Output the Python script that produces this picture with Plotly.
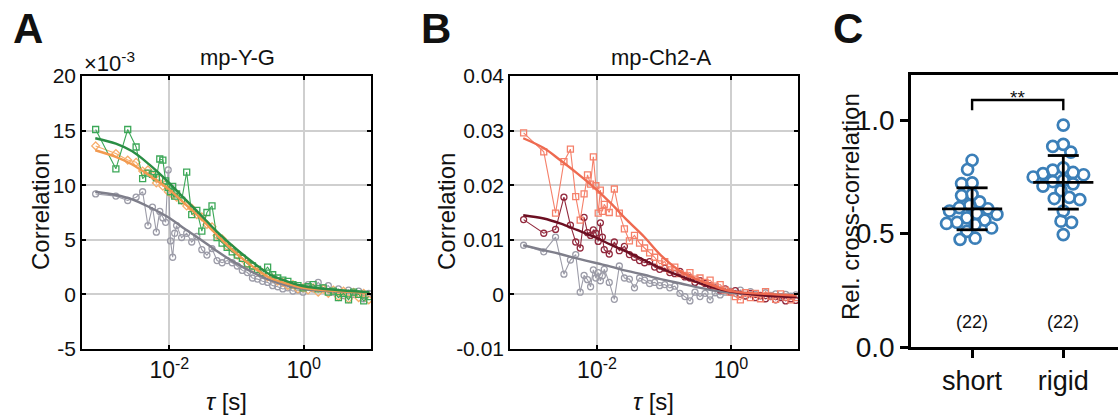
import plotly.graph_objects as go

W, H = 1118, 416

# ---------------- lag times (s) ----------------
tau = [0.0008, 0.0016, 0.0024, 0.0032, 0.0040, 0.0048, 0.0056, 0.0064,
       0.0072, 0.0080, 0.0088, 0.0096, 0.0104, 0.0112, 0.0120, 0.0128,
       0.0152, 0.0181, 0.0215, 0.0256, 0.0304, 0.0362, 0.0431, 0.0512,
       0.0609, 0.0724, 0.0861, 0.1024, 0.1218, 0.1448, 0.1722, 0.2048,
       0.2435, 0.2896, 0.3444, 0.4096, 0.4871, 0.5793, 0.6889, 0.8192,
       0.9742, 1.1585, 1.3777, 1.6384, 1.9484, 2.3170, 2.7554, 3.2768,
       3.8968, 4.6341, 5.5109, 6.5536, 7.7936, 9.2682]

fit_tau = [0.00079, 0.0016, 0.0028, 0.005, 0.01, 0.016, 0.028, 0.05,
           0.089, 0.178, 0.316, 0.562, 1.0, 3.16, 9.5]

# ---------------- panel A: mp-Y-G (x 1e-3) ----------------
a_green = [15.1, 11.5, 15.1, 13.5, 10.6, 11.1, 11.0, 10.7, 12.4, 12.3, 10.4, 9.8,
           9.4, 9.9, 9.0, 9.2, 8.6, 11.2, 7.3, 7.7, 5.8, 7.5, 8.1, 5.2,
           4.7, 4.3, 3.9, 3.6, 3.3, 2.8, 2.6, 2.3, 2.0, 2.5, 1.8, 1.5,
           1.3, 1.2, 0.9, 0.8, 0.6, 0.7, 0.9, 0.5, 0.6, 0.2, 0.3, -0.3,
           0.1, -0.5, 0.2, 0.0, -0.6, -0.2]
a_orange = [13.6, 12.9, 12.3, 12.1, 11.3, 11.4, 10.9, 10.2, 10.6, 9.9, 10.1, 9.4,
            9.7, 9.1, 9.3, 8.9, 8.6, 8.1, 7.9, 7.3, 7.1, 6.4, 6.2, 5.4,
            5.1, 4.4, 4.2, 3.6, 3.3, 2.8, 2.6, 2.1, 2.0, 1.6, 1.5, 1.2,
            1.1, 0.8, 0.9, 0.5, 0.6, 0.4, 0.6, 0.2, 0.5, 0.1, 0.4, -0.2,
            0.3, -0.4, 0.2, -0.3, 0.1, -0.5]
a_gray = [9.2, 9.0, 8.6, 8.9, 9.4, 6.3, 8.0, 5.7, 7.6, 7.0, 6.6, 11.4,
          4.9, 3.4, 5.6, 6.3, 5.2, 5.6, 4.8, 5.3, 4.1, 3.6, 4.2, 3.1,
          2.9, 3.1, 2.9, 2.6, 2.2, 2.0, 1.5, 1.4, 1.2, 1.1, 0.8, 0.7,
          0.5, 0.6, 0.3, 0.4, 0.2, 0.9, 0.5, 1.1, 0.6, 0.8, 0.2, 0.5,
          -0.1, 0.4, 0.0, 0.3, -0.4, 0.1]
a_green_fit = [14.3, 13.8, 13.1, 11.9, 10.2, 8.9, 7.4, 5.8, 4.4, 2.9, 1.8, 1.2, 0.75, 0.4, 0.2]
a_orange_fit = [13.2, 12.6, 11.9, 10.9, 9.6, 8.45, 7.1, 5.5, 4.0, 2.5, 1.5, 1.0, 0.6, 0.3, 0.15]
a_gray_fit = [9.4, 9.1, 8.7, 8.0, 7.0, 6.1, 5.1, 4.0, 3.0, 2.0, 1.3, 0.8, 0.5, 0.25, 0.15]

# ---------------- panel B: mp-Ch2-A ----------------
b_salmon = [0.0296, 0.0261, 0.0149, 0.0243, 0.0266, 0.0179, 0.0136, 0.0184,
            0.0219, 0.0202, 0.0252, 0.0199, 0.0149, 0.0191, 0.0152, 0.0165,
            0.0150, 0.0193, 0.0149, 0.0120, 0.0098, 0.0108, 0.0094, 0.0085,
            0.0076, 0.0068, 0.0056, 0.0060, 0.0045, 0.0050, 0.0038, 0.0035,
            0.0040, 0.0028, 0.0030, 0.0022, 0.0026, 0.0015, 0.0018, 0.0008,
            0.0004, -0.0004, -0.0010, 0.0003, -0.0006, 0.0002, -0.0008, 0.0005,
            -0.0003, -0.0009, 0.0001, -0.0005, -0.0010, -0.0006]
b_maroon = [0.0137, 0.0112, 0.0119, 0.0178, 0.0127, 0.0096, 0.0085, 0.0141,
            0.0113, 0.0108, 0.0118, 0.0112, 0.0097, 0.0131, 0.0105, 0.0082,
            0.0074, 0.0096, 0.0080, 0.0088, 0.0073, 0.0068, 0.0062, 0.0058,
            0.0060, 0.0050, 0.0046, 0.0048, 0.0040, 0.0038, 0.0042, 0.0032,
            0.0030, 0.0022, 0.0025, 0.0020, 0.0016, 0.0012, 0.0008, 0.0010,
            0.0004, 0.0007, 0.0000, -0.0003, 0.0002, -0.0006, -0.0002, -0.0008,
            -0.0004, -0.0010, -0.0006, -0.0012, -0.0008, -0.0011]
b_gray = [0.0090, 0.0078, 0.0105, 0.0037, 0.0063, 0.0073, 0.0004, 0.0035,
          0.0027, 0.0014, 0.0045, 0.0030, 0.0040, 0.0025, 0.0034, 0.0046,
          0.0022, -0.0009, 0.0052, 0.0030, 0.0028, 0.0012, 0.0030, 0.0026,
          0.0020, 0.0022, 0.0016, 0.0018, 0.0012, 0.0015, 0.0002, -0.0004,
          -0.0012, 0.0004, -0.0004, 0.0002, -0.0010, 0.0003, -0.0001, 0.0004,
          0.0006, 0.0002, 0.0008, -0.0002, 0.0005, 0.0000, -0.0003, 0.0003,
          -0.0002, 0.0001, -0.0004, 0.0000, -0.0003, -0.0001]
b_salmon_fit = [0.0286, 0.0268, 0.0246, 0.0222, 0.0191, 0.0167, 0.0136, 0.0106,
                0.0072, 0.0042, 0.0027, 0.0015, 0.0006, 0.0001, -0.0002]
b_maroon_fit = [0.0145, 0.0139, 0.0130, 0.0118, 0.0103, 0.0091, 0.0078, 0.0063,
                0.0048, 0.0033, 0.0022, 0.0012, 0.0005, -0.0002, -0.0005]
b_gray_fit = [0.0090, 0.0081, 0.0074, 0.0066, 0.0057, 0.0051, 0.0043, 0.0036,
              0.0028, 0.0020, 0.0013, 0.0007, 0.0003, 0.0000, -0.0001]

# ---------------- panel C: relative cross-correlation ----------------
c_groups = ["short", "rigid"]
c_short = [0.824, 0.783, 0.724, 0.721, 0.668, 0.673, 0.640, 0.625, 0.615, 0.610, 0.600,
           0.590, 0.585, 0.570, 0.560, 0.550, 0.545, 0.540, 0.525, 0.510, 0.480, 0.475]
c_rigid = [0.979, 0.894, 0.885, 0.860, 0.790, 0.780, 0.770, 0.765, 0.760, 0.750, 0.735,
           0.730, 0.720, 0.710, 0.690, 0.660, 0.655, 0.650, 0.600, 0.555, 0.550, 0.496]
c_counts = ["(22)", "(22)"]

FONT = "Liberation Sans, Arial, Helvetica, sans-serif"

# panel geometry in pixels
AX_A = (82, 371)
AX_B = (510, 798)
AX_C = (911, 1118)
Y_TOP, Y_BOT = 76, 349


def xd(p):
    return [p[0] / W, p[1] / W]


def yd(top, bot):
    return [1 - bot / H, 1 - top / H]


fig = go.Figure()


def curve_traces(xa, ya, data_series, fit_series):
    for vals, col, sym in data_series:
        fig.add_trace(go.Scatter(
            x=tau, y=vals, mode="lines+markers", xaxis=xa, yaxis=ya,
            line=dict(color=col, width=1.1),
            marker=dict(symbol=sym, size=6, color=col, line=dict(width=1.3, color=col)),
            showlegend=False, hoverinfo="skip"))
    for vals, col in fit_series:
        fig.add_trace(go.Scatter(
            x=fit_tau, y=vals, mode="lines", xaxis=xa, yaxis=ya,
            line=dict(color=col, width=2.4, shape="spline", smoothing=1.0),
            showlegend=False, hoverinfo="skip"))


GRAY_D, GRAY_F = "#9c9ca8", "#7f7f8b"
curve_traces("x", "y",
             [(a_gray, GRAY_D, "circle-open"),
              (a_orange, "#f7ad6b", "diamond-open"),
              (a_green, "#3ca858", "square-open")],
             [(a_gray_fit, GRAY_F), (a_orange_fit, "#f29a50"), (a_green_fit, "#2a8e45")])
curve_traces("x2", "y2",
             [(b_gray, GRAY_D, "circle-open"),
              (b_maroon, "#92293d", "circle-open"),
              (b_salmon, "#f5806a", "square-open")],
             [(b_gray_fit, GRAY_F), (b_maroon_fit, "#6c0f22"), (b_salmon_fit, "#ee6a50")])

# ---- beeswarm layout for panel C (pixel-space packing, slight overlap allowed) ----
PX_X = 91.0     # pixels per category unit
PX_Y = 226.0    # pixels per y unit
DIAM = 10.3


def swarm(values, center):
    placed = []
    out = [None] * len(values)
    order = sorted(range(len(values)), key=lambda i: -values[i])
    for i in order:
        yv = values[i] * PX_Y
        best = None
        for step in range(0, 80):
            for sgn in ((1,) if step == 0 else (-1, 1)):
                off = sgn * step * 0.75
                ok = all((off - px) ** 2 + (yv - py) ** 2 >= DIAM ** 2 for px, py in placed)
                if ok:
                    best = off
                    break
            if best is not None:
                break
        placed.append((best, yv))
        out[i] = center + best / PX_X
    return out


BLUE = "#3b7fb8"
for gi, vals in enumerate([c_short, c_rigid]):
    xs = swarm(vals, gi)
    fig.add_trace(go.Scatter(
        x=xs, y=vals, mode="markers", xaxis="x3", yaxis="y3",
        marker=dict(symbol="circle-open", size=11, color=BLUE, line=dict(width=2.7, color=BLUE)),
        showlegend=False, hoverinfo="skip"))
    n = len(vals)
    mean = sum(vals) / n
    sd = (sum((v - mean) ** 2 for v in vals) / (n - 1)) ** 0.5
    segs_x = [gi - 0.33, gi + 0.33, None, gi - 0.17, gi + 0.17, None,
              gi - 0.17, gi + 0.17, None, gi, gi]
    segs_y = [mean, mean, None, mean + sd, mean + sd, None,
              mean - sd, mean - sd, None, mean - sd, mean + sd]
    fig.add_trace(go.Scatter(
        x=segs_x, y=segs_y, mode="lines", xaxis="x3", yaxis="y3",
        line=dict(color="black", width=2.8), showlegend=False, hoverinfo="skip"))

# significance bracket
fig.add_trace(go.Scatter(
    x=[0, 0, 1, 1], y=[1.045, 1.09, 1.09, 1.045], mode="lines", xaxis="x3", yaxis="y3",
    line=dict(color="black", width=2.4), showlegend=False, hoverinfo="skip"))

# ---------------- axes ----------------
log_common = dict(
    type="log", range=[-3.3, 1.0], tickvals=[0.01, 1],
    ticktext=["10<sup>-2</sup>", "10<sup>0</sup>"],
    showgrid=True, gridcolor="#cfcfcf", gridwidth=1.5,
    showline=True, linecolor="black", linewidth=1.6, mirror="allticks",
    ticks="inside", ticklen=4, tickcolor="black", tickwidth=1.5, automargin=False,
    tickfont=dict(family=FONT, size=23, color="#111"), zeroline=False)
lin_common = dict(
    showgrid=True, gridcolor="#cfcfcf", gridwidth=1.5,
    showline=True, linecolor="black", linewidth=1.6, mirror="allticks",
    ticks="inside", ticklen=4, tickcolor="black", tickwidth=1.5, automargin=False,
    tickfont=dict(family=FONT, size=21, color="#111"), zeroline=False)

layout = dict(
    width=W, height=H, margin=dict(l=0, r=0, t=0, b=0, pad=0), autosize=False,
    paper_bgcolor="white", plot_bgcolor="white", showlegend=False,
    xaxis=dict(domain=xd(AX_A), anchor="y", **log_common),
    yaxis=dict(domain=yd(Y_TOP, Y_BOT), anchor="x", range=[-5, 20],
               tickvals=[-5, 0, 5, 10, 15, 20], ticktext=["-5", "0", "5", "10", "15", "20"],
               **lin_common),
    xaxis2=dict(domain=xd(AX_B), anchor="y2", **log_common),
    yaxis2=dict(domain=yd(Y_TOP, Y_BOT), anchor="x2", range=[-0.01, 0.04],
                tickvals=[-0.01, 0, 0.01, 0.02, 0.03, 0.04],
                ticktext=["-0.01", "0", "0.01", "0.02", "0.03", "0.04"],
                **lin_common),
    xaxis3=dict(domain=xd(AX_C), anchor="y3", range=[-0.67, 1.6],
                tickvals=[0, 1], ticktext=c_groups, automargin=False,
                showline=True, linecolor="black", linewidth=2.6, mirror=True,
                ticks="outside", ticklen=8, tickwidth=2.6, tickcolor="black",
                showgrid=False, zeroline=False,
                tickfont=dict(family=FONT, size=27, color="#111")),
    yaxis3=dict(domain=yd(75, 347), anchor="x3", range=[0, 1.2],
                tickvals=[0, 0.5, 1.0], ticktext=["0.0", "0.5", "1.0"], automargin=False,
                showline=True, linecolor="black", linewidth=2.6,
                ticks="outside", ticklen=8, tickwidth=2.6, tickcolor="black",
                showgrid=False, zeroline=False,
                tickfont=dict(family=FONT, size=28, color="#111")),
)
fig.update_layout(**layout)


def ann(text, x, y, size, xanchor="center", yanchor="middle", angle=0, bold=False):
    fig.add_annotation(
        text=f"<b>{text}</b>" if bold else text,
        x=x / W, y=1 - y / H, xref="paper", yref="paper", showarrow=False,
        xanchor=xanchor, yanchor=yanchor, textangle=angle,
        font=dict(family=FONT, size=size, color="#111"))


# panel letters
ann("A", 28, 29, 42, bold=True)
ann("B", 436, 29, 42, bold=True)
ann("C", 848, 29, 42, bold=True)

# titles and labels, panel A
ann("mp-Y-G", 237, 57, 22)
ann("\u00d710<sup>-3</sup>", 82, 62, 22, xanchor="left")
ann("Correlation", 40, 212, 24, angle=-90)
ann("<i>\u03c4</i> [s]", 226, 401, 24)

# panel B
ann("mp-Ch2-A", 661, 57, 22)
ann("Correlation", 446, 212, 24, angle=-90)
ann("<i>\u03c4</i> [s]", 654, 401, 24)

# panel C
ann("Rel. cross-correlation", 850, 207, 24, angle=-90)
fig.add_annotation(text="**", x=0.5, y=1.10, xref="x3", yref="y3", showarrow=False,
                   yanchor="middle", font=dict(family=FONT, size=19, color="#111"))
for i, t in enumerate(c_counts):
    fig.add_annotation(text=t, x=i, y=0.11, xref="x3", yref="y3", showarrow=False,
                       font=dict(family=FONT, size=18, color="#111"))

fig.write_html("out.html")
